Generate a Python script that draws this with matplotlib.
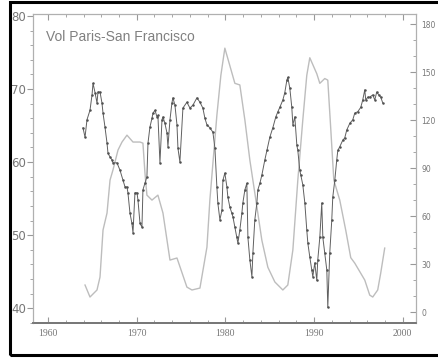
import matplotlib
matplotlib.use("Agg")
import matplotlib.pyplot as plt
from matplotlib.patches import Rectangle
from matplotlib.ticker import MultipleLocator

# volatility series (left axis)
vol_year = [1963.94, 1964.17, 1964.39, 1964.73, 1964.96, 1965.07, 1965.30, 1965.52, 1965.63, 1965.86,
            1966.08, 1966.20, 1966.42, 1966.65, 1966.76, 1966.99, 1967.21, 1967.32, 1967.77, 1968.11,
            1968.45, 1968.68, 1968.90, 1969.01, 1969.24, 1969.46, 1969.58, 1969.80, 1970.03, 1970.14,
            1970.37, 1970.59, 1970.70, 1970.93, 1971.15, 1971.27, 1971.49, 1971.72, 1971.83, 1972.06,
            1972.28, 1972.39, 1972.62, 1972.85, 1972.96, 1973.18, 1973.41, 1973.52, 1973.75, 1973.97,
            1974.08, 1974.31, 1974.54, 1974.65, 1974.87, 1975.21, 1975.66, 1976.00, 1976.34, 1976.79,
            1977.13, 1977.46, 1977.69, 1977.92, 1978.25, 1978.59, 1978.82, 1979.04, 1979.15, 1979.38,
            1979.61, 1979.72, 1979.94, 1980.17, 1980.28, 1980.51, 1980.73, 1980.85, 1981.07, 1981.30,
            1981.41, 1981.63, 1981.86, 1981.97, 1982.20, 1982.42, 1982.54, 1982.76, 1982.99, 1983.10,
            1983.32, 1983.55, 1983.66, 1983.89, 1984.11, 1984.45, 1984.68, 1985.01, 1985.35, 1985.69,
            1985.92, 1986.14, 1986.48, 1986.70, 1986.93, 1987.04, 1987.27, 1987.49, 1987.61, 1987.83,
            1988.06, 1988.17, 1988.39, 1988.51, 1988.73, 1988.96, 1989.18, 1989.30, 1989.52, 1989.75,
            1989.86, 1990.08, 1990.31, 1990.42, 1990.65, 1990.87, 1990.99, 1991.21, 1991.44, 1991.55,
            1991.77, 1992.00, 1992.11, 1992.34, 1992.56, 1992.68, 1992.90, 1993.24, 1993.46, 1993.69,
            1994.03, 1994.37, 1994.59, 1994.93, 1995.27, 1995.49, 1995.72, 1995.83, 1996.06, 1996.28,
            1996.62, 1996.85, 1997.07, 1997.30, 1997.52, 1997.75]
vol_value = [64.7, 63.4, 65.8, 67.1, 69.2, 70.8, 69.5, 68.1, 69.6, 69.6,
             68.1, 66.7, 64.8, 62.6, 61.2, 60.7, 60.3, 59.9, 59.9, 58.9,
             57.5, 56.6, 56.6, 55.8, 53.0, 51.6, 50.3, 55.8, 55.8, 54.8,
             51.6, 51.1, 56.2, 57.1, 58.0, 62.6, 64.8, 66.0, 66.7, 67.1,
             66.2, 66.4, 59.9, 65.8, 66.2, 65.3, 64.0, 62.1, 65.8, 68.1,
             68.8, 67.8, 65.1, 61.9, 60.0, 67.4, 68.2, 67.4, 67.8, 68.8,
             68.2, 67.4, 66.0, 65.1, 64.7, 64.1, 61.9, 56.6, 54.4, 52.1,
             53.4, 57.5, 58.5, 56.6, 55.2, 53.8, 53.0, 52.5, 51.1, 49.7,
             48.9, 50.7, 53.0, 54.4, 56.2, 57.1, 49.7, 46.6, 44.3, 47.5,
             52.1, 54.4, 56.2, 57.1, 58.2, 60.3, 61.6, 63.4, 64.7, 66.2,
             66.9, 67.5, 68.5, 69.5, 71.2, 71.6, 70.1, 67.5, 65.1, 66.2,
             62.3, 61.6, 58.9, 58.2, 56.9, 54.4, 50.7, 48.9, 47.0, 45.2,
             44.3, 46.2, 43.8, 46.6, 49.7, 54.4, 49.7, 47.5, 45.2, 40.1,
             47.5, 52.1, 55.2, 57.5, 60.3, 61.6, 62.1, 63.0, 63.3, 64.4,
             65.3, 65.8, 66.7, 66.9, 67.5, 68.5, 69.9, 68.5, 68.9, 68.9,
             69.2, 68.5, 69.6, 69.2, 68.9, 68.1]

# traffic series (right axis)
traffic_year = [1964.17, 1964.73, 1965.52, 1965.86, 1966.20, 1966.65, 1966.99, 1967.32, 1967.89, 1968.34,
                1968.90, 1969.58, 1970.37, 1970.70, 1970.93, 1971.15, 1971.72, 1972.39, 1972.96, 1973.75,
                1974.54, 1975.66, 1976.23, 1977.13, 1977.92, 1978.25, 1979.04, 1979.49, 1979.94, 1981.07,
                1981.63, 1982.20, 1982.76, 1983.44, 1984.11, 1984.79, 1985.58, 1986.48, 1987.04, 1987.61,
                1988.17, 1988.73, 1989.18, 1989.52, 1990.31, 1990.65, 1991.21, 1991.55, 1991.89, 1992.23,
                1992.90, 1993.58, 1994.14, 1994.59, 1995.72, 1996.28, 1996.62, 1997.18, 1997.52, 1997.97]
traffic_value = [16.9, 9.4, 13.8, 21.9, 51.3, 61.9, 82.5, 88.8, 101.3, 106.3,
                 110.6, 106.3, 106.3, 105.6, 86.9, 73.1, 70.0, 73.1, 61.9, 32.5,
                 33.8, 15.6, 13.8, 15.0, 40.6, 70.0, 123.0, 148.0, 165.0, 143.0,
                 142.0, 120.0, 95.0, 70.0, 45.0, 28.0, 18.8, 13.8, 16.9, 38.8,
                 82.5, 120.0, 148.0, 159.0, 149.0, 143.0, 146.0, 145.0, 114.0, 82.5,
                 70.0, 51.0, 34.0, 30.6, 20.0, 10.6, 9.4, 13.8, 24.4, 40.0]

title = "Vol Paris-San Francisco"

fig = plt.figure(figsize=(4.38, 3.61), dpi=100)
ax = fig.add_axes([0.0753, 0.105, 0.8745, 0.856])
ax2 = ax.twinx()

ax2.plot(traffic_year, traffic_value, color="#bdbdbd", lw=1.0, zorder=1)
ax.plot(vol_year, vol_value, color="#606060", lw=0.7, marker=".", ms=3.6,
        markeredgewidth=0, markerfacecolor="#505050", zorder=3)
ax.set_zorder(ax2.get_zorder() + 1)
ax.patch.set_visible(False)

ax.set_xlim(1958.3, 2001.5)
ax.set_ylim(37.95, 80.27)
ax2.set_ylim(-6.9, 186.3)

ax.set_xticks([1960, 1970, 1980, 1990, 2000])
ax.xaxis.set_minor_locator(MultipleLocator(2))
ax.set_yticks([40, 50, 60, 70, 80])
ax.yaxis.set_minor_locator(MultipleLocator(2))
ax2.set_yticks([0, 30, 60, 90, 120, 150, 180])
ax2.yaxis.set_minor_locator(MultipleLocator(10))

ax.tick_params(axis="x", which="both", direction="in", top=True, colors="#999999",
               labelcolor="#777777", labelsize=7, pad=4)
ax.tick_params(axis="x", which="major", length=4)
ax.tick_params(axis="x", which="minor", length=2)
ax.tick_params(axis="y", which="both", direction="out", colors="#999999",
               labelcolor="#777777", labelsize=8.5, pad=1)
ax.tick_params(axis="y", which="major", length=4)
ax.tick_params(axis="y", which="minor", length=2)
ax2.tick_params(axis="y", which="both", direction="in", colors="#999999",
                labelcolor="#777777", labelsize=5.5, pad=4)
ax2.tick_params(axis="y", which="major", length=4)
ax2.tick_params(axis="y", which="minor", length=2)

for a in (ax, ax2):
    for side in ("top", "right", "left"):
        a.spines[side].set_color("#b0b0b0")
    a.spines["bottom"].set_color("#777777")
    a.spines["bottom"].set_linewidth(1.3)

for lbl in ax.get_xticklabels():
    lbl.set_family("Liberation Serif")

ax.text(0.035, 0.925, title, transform=ax.transAxes, color="#808080",
        fontsize=10, family="Liberation Sans", va="center", ha="left")

# black frame around the figure
fig.patches.append(Rectangle((9.5 / 438, (361 - 354.5) / 361), 1.0, (354.5 - 1.5) / 361,
                             transform=fig.transFigure, fill=False, edgecolor="black",
                             lw=2.2, clip_on=False))

fig.savefig("out.png", dpi=100)
